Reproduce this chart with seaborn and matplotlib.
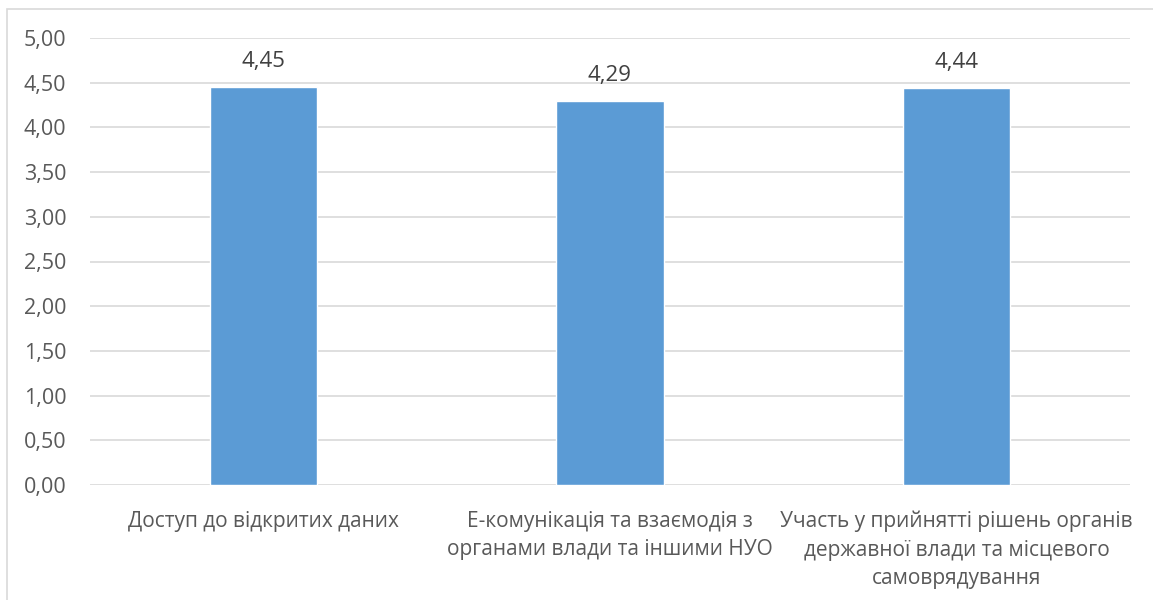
import matplotlib
matplotlib.use("Agg")
import matplotlib.pyplot as plt
import seaborn as sns
import pandas as pd
from matplotlib.patches import Rectangle

categories = [
    "Доступ до відкритих даних",
    "Е-комунікація та взаємодія з\nорганами влади та іншими НУО",
    "Участь у прийнятті рішень органів\nдержавної влади та місцевого\nсамоврядування",
]
values = [4.45, 4.29, 4.44]
yticks = [0.0, 0.5, 1.0, 1.5, 2.0, 2.5, 3.0, 3.5, 4.0, 4.5, 5.0]

sns.set_theme(style="white")
plt.rcParams['font.family'] = ['Open Sans', 'DejaVu Sans']

df = pd.DataFrame({"cat": categories, "val": values})

fig = plt.figure(figsize=(11.53, 6.0), dpi=100)
ax = fig.add_axes([90/1153, 1-485/600, (1130-90)/1153, (485-38)/600])

sns.barplot(data=df, x="cat", y="val", color="#5B9BD5", saturation=1, width=0.31, ax=ax)

ax.set_ylim(0, 5)
ax.set_yticks(yticks)
ax.set_yticklabels([f"{t:.2f}".replace(".", ",") for t in yticks])
ax.yaxis.grid(True, color="#D9D9D9", linewidth=1.2)
ax.set_axisbelow(True)
for s in ax.spines.values():
    s.set_visible(False)
ax.set_xlabel("")
ax.set_ylabel("")
ax.tick_params(axis="y", length=0, pad=17, labelsize=15.5, labelcolor="#595959")
ax.tick_params(axis="x", length=0, pad=18.5, labelsize=15, labelcolor="#595959")
for lbl in ax.get_xticklabels():
    lbl.set_linespacing(1.47)
    lbl.set_horizontalalignment("center")

ax.bar_label(ax.containers[0], labels=[f"{v:.2f}".replace(".", ",") for v in values],
             padding=11, fontsize=16, color="#404040")

fig.patches.append(Rectangle((7/1153, -0.1), 1.2, 1-9/600+0.1, transform=fig.transFigure,
                             fill=False, edgecolor="#D9D9D9", linewidth=1.2))

fig.savefig("out.png", dpi=100)
